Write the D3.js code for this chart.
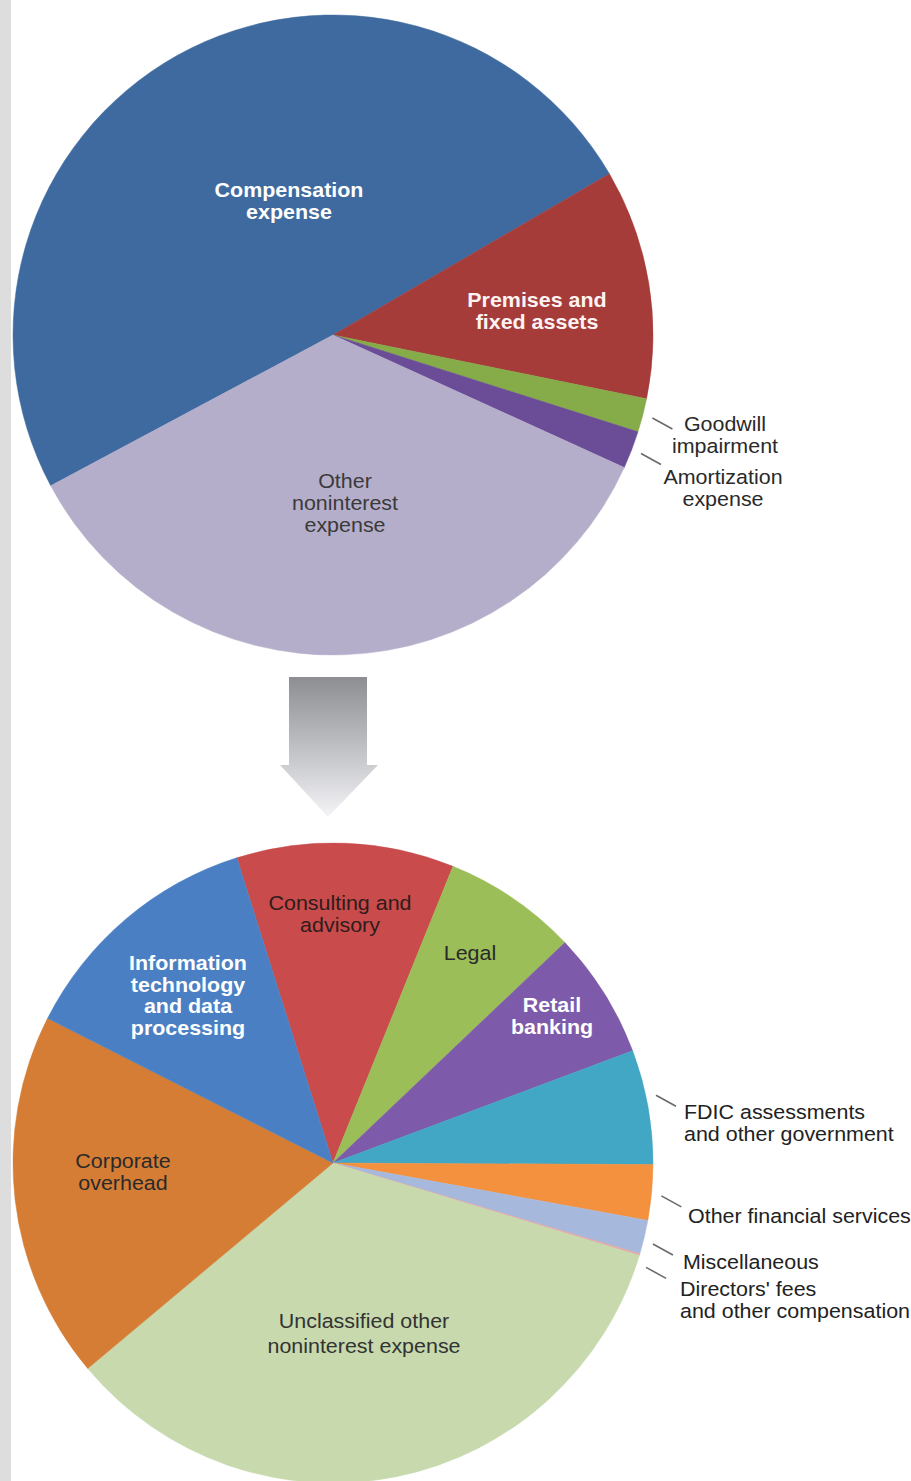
<!DOCTYPE html>
<html>
<head>
<meta charset="utf-8">
<script src="https://cdn.jsdelivr.net/npm/d3@7"></script>
<style>
  html, body { margin: 0; padding: 0; background: #ffffff; }
  svg { display: block; }
  text { font-family: "Liberation Sans", Arial, sans-serif; }
</style>
</head>
<body>
<svg id="chart" width="911" height="1481"></svg>
<script>
// ---------- DATA ----------
// Top pie: total noninterest expense breakdown (% share)
const topCategories = ["Compensation expense", "Premises and fixed assets", "Goodwill impairment", "Amortization expense", "Other noninterest expense"];
const topValues     = [49.4, 11.6, 1.7, 1.9, 35.4];
const topColors     = ["#3e6a9f", "#a53c3a", "#86ab49", "#6b4c96", "#b5aecb"];

// Bottom pie: breakdown of other noninterest expense (% share)
const bottomCategories = ["Consulting and advisory", "Legal", "Retail banking", "FDIC assessments and other government",
                          "Other financial services", "Miscellaneous", "Directors' fees and other compensation",
                          "Unclassified other noninterest expense", "Corporate overhead", "Information technology and data processing"];
const bottomValues     = [11.0, 6.8, 6.4, 5.8, 2.8, 1.7, 0.1, 34.3, 18.6, 12.7];
const bottomColors     = ["#c94b4b", "#9bbe59", "#7e5aaa", "#42a7c4", "#f4913f", "#a7b8dd", "#e3a9a9", "#c7d9ad", "#d57d35", "#4a80c3"];

// ---------- LAYOUT ----------
const W = 911, H = 1481;
const R = 320;
const topCenter = [333, 335];
const bottomCenter = [333, 1163];
const topStart = -118.1;     // degrees, clockwise from 12 o'clock
const bottomStart = -17.5;
const FS = 19.5, SX = 1.1, LH = 22;

// label layout: lines, offset from pie center, anchor, style
const topLabels = [
  { lines: ["Compensation", "expense"], dx: -44, dy: -134, anchor: "middle", bold: true, fill: "#ffffff" },
  { lines: ["Premises and", "fixed assets"], dx: 204, dy: -24, anchor: "middle", bold: true, fill: "#fdf3f3" },
  { lines: ["Goodwill", "impairment"], dx: 392, dy: 100.5, anchor: "middle", fill: "#2a2a2a" },
  { lines: ["Amortization", "expense"], dx: 390, dy: 153.5, anchor: "middle", fill: "#2a2a2a" },
  { lines: ["Other", "noninterest", "expense"], dx: 12, dy: 168, anchor: "middle", fill: "#3a3a3a" }
];
const bottomLabels = [
  { lines: ["Consulting and", "advisory"], dx: 7, dy: -249, anchor: "middle", fill: "#2f1c1c" },
  { lines: ["Legal"], dx: 137, dy: -210, anchor: "middle", fill: "#2a2a2a" },
  { lines: ["Retail", "banking"], dx: 219, dy: -146.5, anchor: "middle", bold: true, fill: "#ffffff" },
  { lines: ["FDIC assessments", "and other government"], dx: 351, dy: -39.5, anchor: "start", fill: "#222222" },
  { lines: ["Other financial services"], dx: 355, dy: 53, anchor: "start", fill: "#222222" },
  { lines: ["Miscellaneous"], dx: 350, dy: 99, anchor: "start", fill: "#222222" },
  { lines: ["Directors' fees", "and other compensation"], dx: 347, dy: 137, anchor: "start", fill: "#222222" },
  { lines: ["Unclassified other", "noninterest expense"], dx: 31, dy: 170.5, anchor: "middle", fill: "#333333", lh: 25 },
  { lines: ["Corporate", "overhead"], dx: -210, dy: 9.5, anchor: "middle", fill: "#2a2a2a" },
  { lines: ["Information", "technology", "and data", "processing"], dx: -145, dy: -167.5, anchor: "middle", bold: true, fill: "#ffffff", lh: 21.5 }
];
// leader lines for small slices: index of slice, angular nudge (deg)
const topLeaders = [ { i: 2, nudge: 0 }, { i: 3, nudge: 0 } ];
const bottomLeaders = [ { i: 3, nudge: -1.7 }, { i: 4, nudge: 0.4 }, { i: 5, nudge: 0.8 }, { i: 6, nudge: 1.8 } ];

const svg = d3.select("#chart");
const deg = Math.PI / 180;

// left gray strip
svg.append("rect").attr("x", 0).attr("y", 0).attr("width", 11).attr("height", H).attr("fill", "#dddddd");

function drawPie(center, values, colors, startDeg, labels, leaders) {
  const g = svg.append("g").attr("transform", `translate(${center[0]},${center[1]})`);
  const pie = d3.pie().sort(null).value(d => d)
    .startAngle(startDeg * deg).endAngle((startDeg + 360) * deg);
  const arcs = pie(values);
  const arc = d3.arc().innerRadius(0).outerRadius(R);
  g.selectAll("path.slice").data(arcs).join("path")
    .attr("class", "slice")
    .attr("d", arc)
    .attr("fill", (d, i) => colors[i])
    .attr("stroke", (d, i) => colors[i])
    .attr("stroke-width", 0.5);

  // leader lines
  leaders.forEach(l => {
    const a = arcs[l.i];
    const mid = (a.startAngle + a.endAngle) / 2 + l.nudge * deg;
    const r0 = R + 10;
    const x0 = r0 * Math.sin(mid), y0 = -r0 * Math.cos(mid);
    g.append("line")
      .attr("x1", x0).attr("y1", y0)
      .attr("x2", x0 + 20).attr("y2", y0 + 11)
      .attr("stroke", "#6a6a6a").attr("stroke-width", 1.6);
  });

  // labels
  labels.forEach(lb => {
    const lh = lb.lh || LH;
    const lg = g.append("g").attr("transform", `translate(${lb.dx},${lb.dy}) scale(${SX},1)`);
    const t = lg.append("text")
      .attr("text-anchor", lb.anchor)
      .attr("font-size", FS)
      .attr("font-weight", lb.bold ? "bold" : "normal")
      .attr("fill", lb.fill);
    const n = lb.lines.length;
    lb.lines.forEach((s, k) => {
      t.append("tspan").attr("x", 0).attr("y", (k - (n - 1) / 2) * lh).attr("dy", "0.35em").text(s);
    });
  });
}

drawPie(topCenter, topValues, topColors, topStart, topLabels, topLeaders);
drawPie(bottomCenter, bottomValues, bottomColors, bottomStart, bottomLabels, bottomLeaders);

// down arrow between pies
const defs = svg.append("defs");
const grad = defs.append("linearGradient").attr("id", "arrowGrad")
  .attr("x1", 0).attr("y1", 0).attr("x2", 0).attr("y2", 1);
grad.append("stop").attr("offset", "0%").attr("stop-color", "#8c8e92");
grad.append("stop").attr("offset", "55%").attr("stop-color", "#c4c5c9");
grad.append("stop").attr("offset", "100%").attr("stop-color", "#f4f4f7");
svg.append("path")
  .attr("d", "M289,677 L367,677 L367,765 L378,765 L328,817 L280,765 L289,765 Z")
  .attr("fill", "url(#arrowGrad)");
</script>
</body>
</html>
